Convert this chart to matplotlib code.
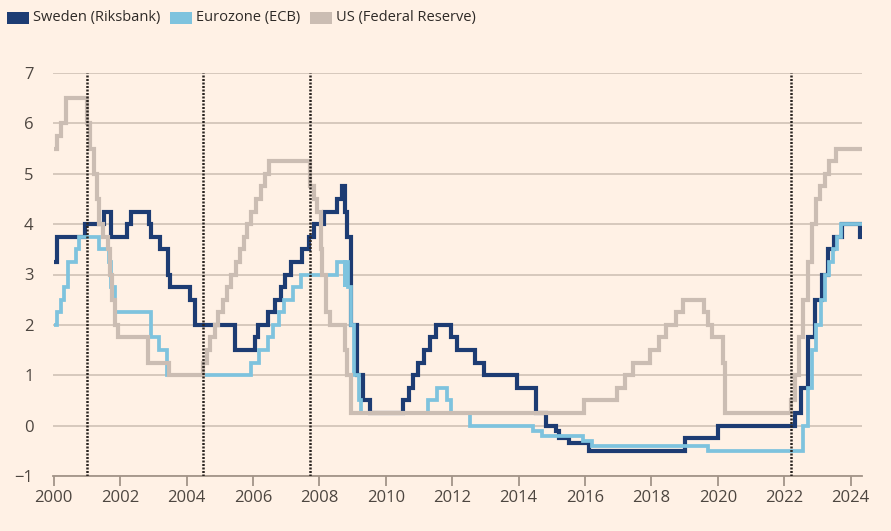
import matplotlib
matplotlib.use("Agg")
import matplotlib.pyplot as plt
from matplotlib.patches import Rectangle
import pandas as pd

# ---------------- data ----------------
sweden_dates = ["2000-01-01", "2000-02-09", "2000-12-13", "2001-07-11", "2001-09-19",
                "2002-03-20", "2002-05-02", "2002-11-20", "2002-12-11", "2003-03-19",
                "2003-06-11", "2003-07-09", "2004-02-11", "2004-04-07", "2005-06-22",
                "2006-01-25", "2006-03-01", "2006-06-21", "2006-09-06", "2006-11-01",
                "2006-12-20", "2007-02-21", "2007-06-27", "2007-09-12", "2007-11-05",
                "2008-02-20", "2008-07-09", "2008-09-10", "2008-10-08", "2008-10-29",
                "2008-12-10", "2009-02-18", "2009-04-29", "2009-07-08", "2010-07-07",
                "2010-09-08", "2010-10-27", "2010-12-21", "2011-02-22", "2011-04-27",
                "2011-07-06", "2011-12-21", "2012-02-22", "2012-09-12", "2012-12-19",
                "2013-12-18", "2014-07-09", "2014-10-29", "2015-02-18", "2015-03-25",
                "2015-07-08", "2016-02-17", "2019-01-09", "2020-01-08", "2022-05-04",
                "2022-07-06", "2022-09-21", "2022-11-30", "2023-02-15", "2023-04-26",
                "2023-07-05", "2023-09-27", "2024-04-18"]
sweden_rates = [3.25, 3.75, 4.00, 4.25, 3.75,
                4.00, 4.25, 4.00, 3.75, 3.50,
                3.00, 2.75, 2.50, 2.00, 1.50,
                1.75, 2.00, 2.25, 2.50, 2.75,
                3.00, 3.25, 3.50, 3.75, 4.00,
                4.25, 4.50, 4.75, 4.25, 3.75,
                2.00, 1.00, 0.50, 0.25, 0.50,
                0.75, 1.00, 1.25, 1.50, 1.75,
                2.00, 1.75, 1.50, 1.25, 1.00,
                0.75, 0.25, 0.00, -0.10, -0.25,
                -0.35, -0.50, -0.25, 0.00, 0.25,
                0.75, 1.75, 2.50, 3.00, 3.50,
                3.75, 4.00, 3.75]

ecb_dates = ["2000-01-01", "2000-02-04", "2000-03-17", "2000-04-28", "2000-06-09",
             "2000-09-01", "2000-10-06", "2001-05-11", "2001-08-31", "2001-09-18",
             "2001-11-09", "2002-12-06", "2003-03-07", "2003-06-06", "2005-12-06",
             "2006-03-08", "2006-06-15", "2006-08-09", "2006-10-11", "2006-12-13",
             "2007-03-14", "2007-06-13", "2008-07-09", "2008-10-08", "2008-10-15",
             "2008-11-12", "2008-12-10", "2009-01-21", "2009-03-11", "2009-04-08",
             "2011-04-13", "2011-07-13", "2011-11-09", "2011-12-14", "2012-07-11",
             "2014-06-11", "2014-09-10", "2015-12-09", "2016-03-16", "2019-09-18",
             "2022-07-27", "2022-09-14", "2022-11-02", "2022-12-21", "2023-02-08",
             "2023-03-22", "2023-05-10", "2023-06-21", "2023-08-02", "2023-09-20"]
ecb_rates = [2.00, 2.25, 2.50, 2.75, 3.25,
             3.50, 3.75, 3.50, 3.25, 2.75,
             2.25, 1.75, 1.50, 1.00, 1.25,
             1.50, 1.75, 2.00, 2.25, 2.50,
             2.75, 3.00, 3.25, 2.75, 3.25,
             2.75, 2.00, 1.00, 0.50, 0.25,
             0.50, 0.75, 0.50, 0.25, 0.00,
             -0.10, -0.20, -0.30, -0.40, -0.50,
             0.00, 0.75, 1.50, 2.00, 2.50,
             3.00, 3.25, 3.50, 3.75, 4.00]

fed_dates = ["2000-01-01", "2000-02-02", "2000-03-21", "2000-05-16", "2001-01-03",
             "2001-01-31", "2001-03-20", "2001-04-18", "2001-05-15", "2001-06-27",
             "2001-08-21", "2001-09-17", "2001-10-02", "2001-11-06", "2001-12-11",
             "2002-11-06", "2003-06-25", "2004-06-30", "2004-08-10", "2004-09-21",
             "2004-11-10", "2004-12-14", "2005-02-02", "2005-03-22", "2005-05-03",
             "2005-06-30", "2005-08-09", "2005-09-20", "2005-11-01", "2005-12-13",
             "2006-01-31", "2006-03-28", "2006-05-10", "2006-06-29", "2007-09-18",
             "2007-10-31", "2007-12-11", "2008-01-22", "2008-01-30", "2008-03-18",
             "2008-04-30", "2008-10-08", "2008-10-29", "2008-12-16", "2015-12-16",
             "2016-12-14", "2017-03-15", "2017-06-14", "2017-12-13", "2018-03-21",
             "2018-06-13", "2018-09-26", "2018-12-19", "2019-07-31", "2019-09-18",
             "2019-10-30", "2020-03-03", "2020-03-15", "2022-03-16", "2022-05-04",
             "2022-06-15", "2022-07-27", "2022-09-21", "2022-11-02", "2022-12-14",
             "2023-02-01", "2023-03-22", "2023-05-03", "2023-07-26"]
fed_rates = [5.50, 5.75, 6.00, 6.50, 6.00,
             5.50, 5.00, 4.50, 4.00, 3.75,
             3.50, 3.00, 2.50, 2.00, 1.75,
             1.25, 1.00, 1.25, 1.50, 1.75,
             2.00, 2.25, 2.50, 2.75, 3.00,
             3.25, 3.50, 3.75, 4.00, 4.25,
             4.50, 4.75, 5.00, 5.25, 4.75,
             4.50, 4.25, 3.50, 3.00, 2.25,
             2.00, 1.50, 1.00, 0.25, 0.50,
             0.75, 1.00, 1.25, 1.50, 1.75,
             2.00, 2.25, 2.50, 2.25, 2.00,
             1.75, 1.25, 0.25, 0.50, 1.00,
             1.75, 2.50, 3.25, 4.00, 4.50,
             4.75, 5.00, 5.25, 5.50]

end_date = "2024-05-01"
marker_dates = ["2001-01-03", "2004-06-30", "2007-09-18", "2022-03-16"]

series_labels = ["Sweden (Riksbank)", "Eurozone (ECB)", "US (Federal Reserve)"]
series_colors = ["#1d3c73", "#7ec3de", "#cbbdb3"]

y_ticks = list(range(-1, 8))
x_ticks = list(range(2000, 2025, 2))


def dec_year(s):
    t = pd.Timestamp(s)
    days = 366 if t.is_leap_year else 365
    return t.year + (t.dayofyear - 1) / days


# ---------------- figure ----------------
BG = "#fff1e5"
TXT = "#4d4640"
fig = plt.figure(figsize=(8.91, 5.31), dpi=100, facecolor=BG)
plt.rcParams['font.family'] = ['Open Sans', 'DejaVu Sans']
ax = fig.add_axes([53 / 891, 55 / 531, (862 - 53) / 891, (476 - 73) / 531])
ax.set_facecolor(BG)

end_x = dec_year(end_date)
widths = [3.0, 2.7, 3.0]
for i, (dates, rates) in enumerate([(sweden_dates, sweden_rates),
                                     (ecb_dates, ecb_rates),
                                     (fed_dates, fed_rates)]):
    xs = [dec_year(d) for d in dates] + [end_x]
    ys = list(rates) + [rates[-1]]
    ax.step(xs, ys, where="post", color=series_colors[i], lw=widths[i],
            solid_joinstyle="miter", solid_capstyle="butt", zorder=3 + i)

for d in marker_dates:
    ax.axvline(dec_year(d), color="#2a2420", lw=1.8, ls=(0, (0.8, 0.6)), zorder=10)

ax.set_xlim(1999.98, end_x + 0.01)
ax.set_ylim(-1, 7)
ax.set_yticks(y_ticks)
ax.set_xticks(x_ticks)
ax.set_xticklabels([str(t) for t in x_ticks])
ax.grid(axis="y", color="#cfc1b6", lw=1.2, zorder=1)
for s in ["top", "right", "left"]:
    ax.spines[s].set_visible(False)
ax.spines["bottom"].set_color("#a39488")
ax.spines["bottom"].set_linewidth(1.3)
ax.spines["bottom"].set_zorder(2)
ax.tick_params(axis="y", length=0, pad=14, labelsize=12, labelcolor=TXT)
ax.tick_params(axis="x", length=7, width=1.3, color="#a39488", pad=3,
               labelsize=12, labelcolor=TXT)

# legend
legend_x = [7, 170, 310]
for i, lab in enumerate(series_labels):
    fig.add_artist(Rectangle((legend_x[i] / 891, 1 - 23.5 / 531), 22 / 891, 11.5 / 531,
                             transform=fig.transFigure, color=series_colors[i], lw=0))
    fig.text((legend_x[i] + 26) / 891, 1 - 18 / 531, lab, fontsize=10.5, color="#2e2a27",
             va="center", ha="left")

fig.savefig("out.png", dpi=100, facecolor=BG)
